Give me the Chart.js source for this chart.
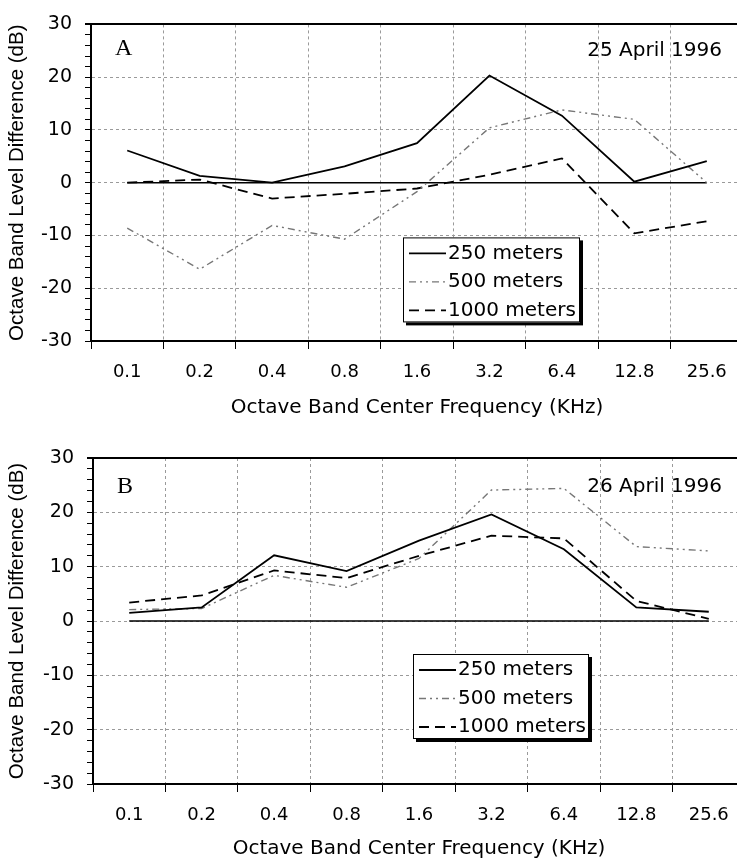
<!DOCTYPE html>
<html>
<head>
<meta charset="utf-8">
<script src="https://cdn.jsdelivr.net/npm/chart.js@4"></script>
<style>
  html, body { margin: 0; padding: 0; background: #fff; width: 737px; height: 863px; overflow: hidden; }
  .panel { position: absolute; left: 0; }
</style>
</head>
<body>
<div class="panel" style="top:0"><canvas id="chartA" width="760" height="420"></canvas></div>
<div class="panel" style="top:420px"><canvas id="chartB" width="760" height="443"></canvas></div>
<script>
// ---- data ----
const freqLabels = ["0.1", "0.2", "0.4", "0.8", "1.6", "3.2", "6.4", "12.8", "25.6"];
const baseline = [0, 0, 0, 0, 0, 0, 0, 0, 0];

// 25 April 1996
const m250A = [6.1, 1.3, 0, 3.1, 7.5, 20.3, 12.7, 0.2, 4.1];
const m500A = [-8.6, -16.4, -8.1, -10.7, -1.7, 10.4, 13.8, 12.0, 0];
const m1000A = [0, 0.6, -3.0, -2.1, -1.1, 1.5, 4.6, -9.6, -7.3];

// 26 April 1996
const m250B = [1.5, 2.5, 12.1, 9.2, 14.8, 19.6, 13.2, 2.5, 1.7];
const m500B = [2.1, 2.3, 8.4, 6.2, 11.5, 24.1, 24.4, 13.7, 12.9];
const m1000B = [3.4, 4.7, 9.3, 7.9, 12.0, 15.7, 15.2, 3.7, 0.4];

const yTicks = [-30, -20, -10, 0, 10, 20, 30];

// ---- plugins ----
const boxLegend = {
  id: "boxLegend",
  afterDatasetsDraw(chart, args, opts) {
    const { ctx, chartArea } = chart;
    const x = chartArea.left + opts.left;
    const y = chartArea.top + opts.top;
    ctx.save();
    ctx.fillStyle = "#000";
    ctx.fillRect(x + 3, y + 3, opts.width, opts.height);
    ctx.fillStyle = "#fff";
    ctx.fillRect(x, y, opts.width, opts.height);
    ctx.strokeStyle = "#000";
    ctx.lineWidth = 1;
    ctx.strokeRect(x + 0.5, y + 0.5, opts.width - 1, opts.height - 1);
    ctx.font = "20px 'DejaVu Sans'";
    ctx.textBaseline = "middle";
    let row = 0;
    chart.data.datasets.forEach((ds) => {
      if (!ds.label) return;
      const ry = y + 16 + row * 28.5;
      ctx.beginPath();
      ctx.strokeStyle = ds.borderColor;
      ctx.lineWidth = ds.borderWidth;
      ctx.setLineDash(ds.borderDash || []);
      ctx.moveTo(x + 6, ry);
      ctx.lineTo(x + 43, ry);
      ctx.stroke();
      ctx.setLineDash([]);
      ctx.fillStyle = "#000";
      ctx.fillText(ds.label, x + 45, ry);
      row++;
    });
    ctx.restore();
  },
};

const panelText = {
  id: "panelText",
  afterDraw(chart, args, opts) {
    const { ctx, chartArea } = chart;
    ctx.save();
    ctx.fillStyle = "#000";
    ctx.textBaseline = "alphabetic";
    ctx.font = "24px 'Liberation Serif'";
    ctx.fillText(opts.letter, chartArea.left + 24, chartArea.top + opts.letterY);
    ctx.font = "20px 'DejaVu Sans'";
    ctx.textAlign = "right";
    ctx.fillText(opts.date, 722, chartArea.top + opts.dateY);
    ctx.restore();
  },
};

function series(label, data, color, width, dash) {
  return {
    label: label,
    data: data,
    borderColor: color,
    borderWidth: width,
    borderDash: dash,
    pointRadius: 0,
    tension: 0,
    fill: false,
  };
}

function makeChart(id, s250, s500, s1000, o) {
  return new Chart(document.getElementById(id), {
    type: "line",
    data: {
      labels: freqLabels,
      datasets: [
        series("250 meters", s250, "#000", 1.8, []),
        series("500 meters", s500, "#777", 1.4, [7, 4, 2, 4, 2, 4]),
        series("1000 meters", s1000, "#000", 1.8, [10, 6]),
        series("", baseline, "#000", 1.6, []),
      ],
    },
    options: {
      responsive: false,
      animation: false,
      layout: { padding: { top: o.top, right: o.right, left: 0, bottom: 0 } },
      plugins: {
        legend: { display: false },
        tooltip: { enabled: false },
        boxLegend: o.legend,
        panelText: o.text,
      },
      scales: {
        x: {
          type: "category",
          offset: true,
          grid: {
            offset: true,
            color: "#9a9a9a",
            lineWidth: 1,
            tickColor: "#000",
            tickLength: 8,
          },
          border: { color: "#000", width: 2, dash: [3, 3] },
          ticks: {
            color: "#000",
            font: { family: "DejaVu Sans", size: 18 },
            padding: 13,
            maxRotation: 0,
            autoSkip: false,
          },
          title: {
            display: true,
            text: "Octave Band Center Frequency (KHz)",
            color: "#000",
            font: { family: "DejaVu Sans", size: 20 },
            padding: { top: 0, bottom: o.titlePad },
          },
          afterFit: (s) => { s.height = 79; },
        },
        y: {
          min: -30,
          max: 30,
          grid: {
            color: (c) => {
              if (!c.tick || !yTicks.includes(c.tick.value)) return "rgba(0,0,0,0)";
              return c.tick.value === 30 ? "#000" : "#9a9a9a";
            },
            lineWidth: (c) => (c.tick && c.tick.value === 30 ? 2 : 1),
            tickColor: "#000",
            tickLength: 6,
          },
          border: {
            color: "#000",
            width: 2,
            dash: (c) => (c.tick && c.tick.value === 30 ? [] : [3, 3]),
          },
          ticks: {
            stepSize: 2,
            autoSkip: false,
            color: "#000",
            font: { family: "DejaVu Sans", size: 19 },
            padding: 13,
            callback: (v) => (yTicks.includes(v) ? String(v) : ""),
          },
          title: {
            display: true,
            text: "Octave Band Level Difference (dB)",
            color: "#000",
            font: { family: "Liberation Sans", size: 20.5 },
            padding: { top: 5, bottom: 0 },
          },
          afterFit: (s) => { s.width = o.left; },
        },
      },
    },
    plugins: [boxLegend, panelText],
  });
}

const chartA = makeChart("chartA", m250A, m500A, m1000A, {
  top: 15, right: 17, left: 91, titlePad: 0,
  legend: { left: 312, top: 213, width: 177, height: 85 },
  text: { letter: "A", letterY: 31, date: "25 April 1996", dateY: 32 },
});

const chartB = makeChart("chartB", m250B, m500B, m1000B, {
  top: 38, right: 15, left: 93, titlePad: 2,
  legend: { left: 320, top: 196, width: 176, height: 85 },
  text: { letter: "B", letterY: 35, date: "26 April 1996", dateY: 34 },
});
</script>
</body>
</html>
